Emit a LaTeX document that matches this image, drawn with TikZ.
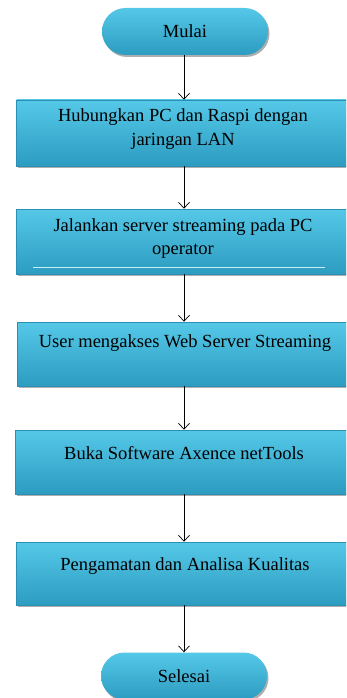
\documentclass[tikz,border=0pt]{standalone}
\usepackage{fontspec}
\setmainfont{Liberation Serif}
\newfontfamily\tnr{Liberation Serif}
\usetikzlibrary{arrows.meta,shadows,shapes.misc}
\definecolor{cyantop}{HTML}{55C8E8}
\definecolor{cyanmid}{HTML}{3DB7DB}
\definecolor{cyanbot}{HTML}{2C9CC0}
\definecolor{cyanedge}{HTML}{2A8FB2}
\definecolor{hiline}{HTML}{C8EEF8}
\begin{document}
\begin{tikzpicture}[x=1pt,y=-1pt,
  stepbox/.style={rectangle, inner sep=0pt, minimum width=334pt, minimum height=#1,
    top color=cyantop, middle color=cyanmid, bottom color=cyanbot,
    draw=cyanedge, line width=0.5pt,
    drop shadow={shadow xshift=1.5pt, shadow yshift=-2pt, opacity=0.45, fill=black!70}},
  term/.style={rounded rectangle, inner sep=0pt, minimum width=166pt, minimum height=47pt,
    top color=cyantop, middle color=cyanmid, bottom color=cyanbot,
    draw=none,
    drop shadow={shadow xshift=1.5pt, shadow yshift=-2pt, opacity=0.45, fill=black!70},
    font=\tnr\fontsize{18.5}{23}\selectfont},
  txt/.style={align=center, inner sep=0pt, font=\tnr\fontsize{18.5}{23.5}\selectfont},
  flow/.style={draw=black, line width=0.7pt, -{Straight Barb[length=6pt, width=11pt, line width=0.7pt]}}
]
\useasboundingbox (0,0) rectangle (346,698);
\clip (0,0) rectangle (346,698);

\node[term] (start) at (185,31.5) {Mulai};
\node[stepbox=66pt] (b1) at (183.5,133) {};
\node[stepbox=65pt] (b2) at (183,241.5) {};
\node[stepbox=64pt] (b3) at (184.5,354) {};
\node[stepbox=64pt] (b4) at (182,462) {};
\node[stepbox=63pt] (b5) at (183,573.5) {};
\node[term] (end) at (184,676) {Selesai};

\draw[hiline, line width=1pt] (33,267) coordinate (h1) -- (325,267) coordinate (h2);

\node[txt] (t1) at (183,129) {Hubungkan PC dan Raspi dengan\\jaringan LAN};
\node[txt] (t2) at (183,238.5) {Jalankan server streaming pada PC\\operator};
\node[txt] (t3) at (185,343) {User mengakses Web Server Streaming};
\node[txt] (t4) at (184,453) {Buka Software Axence netTools};
\node[txt] (t5) at (185,566) {Pengamatan dan Analisa Kualitas};

\draw[flow] (start.south -| 184,0) -- (b1.north -| 184,0);
\draw[flow] (b1.south -| 184,0) -- (b2.north -| 184,0);
\draw[flow] (b2.south -| 184,0) -- (b3.north -| 184,0);
\draw[flow] (b3.south -| 184,0) -- (b4.north -| 184,0);
\draw[flow] (b4.south -| 184,0) -- (b5.north -| 184,0);
\draw[flow] (b5.south -| 184,0) -- (end.north -| 184,0);
\end{tikzpicture}
\end{document}
